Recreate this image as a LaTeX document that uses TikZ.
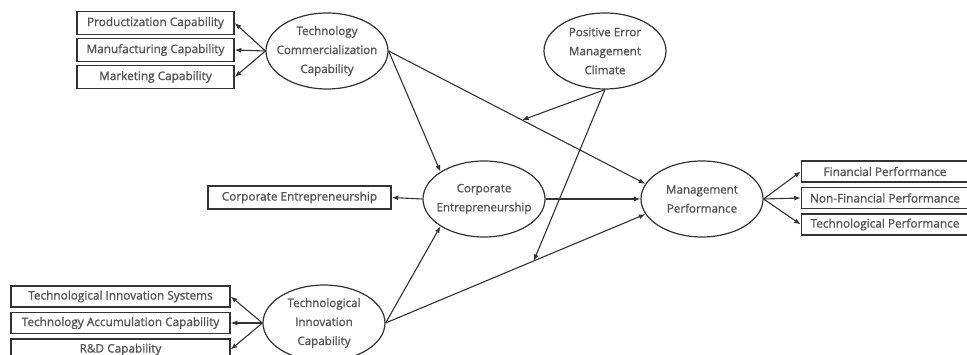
\documentclass[tikz,border=0pt]{standalone}
\usepackage{fontspec}
\setmainfont{Open Sans}[FakeBold=1.1]
\usepackage{tikz}
\usetikzlibrary{arrows.meta,positioning,shapes.geometric}
\usepackage{xcolor}
\definecolor{linegray}{HTML}{333333}
\definecolor{textgray}{HTML}{555555}

\begin{document}
\begin{tikzpicture}[x=1pt, y=-1pt,
  latent/.style={draw=linegray, line width=1.2pt, ellipse, inner sep=-20pt,
    minimum width=122pt, minimum height=76pt, align=center,
    text=textgray, font=\fontsize{11.6}{19}\selectfont},
  indicator/.style={draw=linegray, line width=1.5pt, rectangle,
    minimum height=21pt, inner sep=1pt, text=textgray,
    font=\fontsize{11.8}{12}\selectfont},
  link/.style={draw=linegray, line width=1.1pt,
    -{Latex[length=6.5pt,width=5pt]}}]
  %% Page frame
  \clip (0,0) rectangle (967,355);

  %% Latent constructs
  \node[latent] (tcc)  at (327,51)  {Technology\\Commercialization\\Capability};
  \node[latent] (pemc) at (605,51)  {Positive Error\\Management\\Climate};
  \node[latent] (ce)   at (484,199) {Corporate\\Entrepreneurship};
  \node[latent] (mp)   at (702,199) {Management\\Performance};
  \node[latent] (tic)  at (324,323) {Technological\\Innovation\\Capability};

  %% Indicators of technology commercialization capability
  \node[indicator, minimum width=157pt, minimum height=23pt] (manu) at (155.5,50)
    {Manufacturing Capability};
  \node[indicator, minimum width=157pt, minimum height=23pt, above=2.5pt of manu] (prod)
    {Productization Capability};
  \node[indicator, minimum width=157pt, minimum height=23pt, below=2.5pt of manu] (mark)
    {Marketing Capability};

  %% Indicator of corporate entrepreneurship
  \node[indicator, minimum width=183pt, minimum height=23pt] (cebox) at (299.5,197.5)
    {Corporate Entrepreneurship};

  %% Indicators of management performance
  \node[indicator, minimum width=167pt] (nonfin) at (885,198)
    {Non-Financial Performance};
  \node[indicator, minimum width=167pt, above=4pt of nonfin] (fin)
    {Financial Performance};
  \node[indicator, minimum width=167pt, below=4pt of nonfin] (techperf)
    {Technological Performance};

  %% Indicators of technological innovation capability
  \node[indicator, minimum width=219pt] (tac) at (120.5,323)
    {Technology Accumulation Capability};
  \node[indicator, minimum width=219pt, above=4pt of tac] (tis)
    {Technological Innovation Systems};
  \node[indicator, minimum width=219pt, below=4pt of tac] (rnd)
    {R\&D Capability};

  %% Measurement arrows
  \foreach \b in {prod,manu,mark}
    \draw[link] (tcc.west) -- (\b.east);
  \foreach \b in {tis,tac,rnd}
    \draw[link] (tic.west) -- (\b.east);
  \foreach \b in {fin,nonfin,techperf}
    \draw[link] (mp.east) -- (\b.west);
  \draw[link] (ce.west) -- (cebox.east);

  %% Structural paths
  \draw[link] (tcc.east) -- (ce.north west);
  \draw[link] (tcc.east) -- coordinate[pos=0.52] (modtop) (mp.165);
  \draw[link] (tic.east) -- (ce.south west);
  \draw[link] (tic.east) -- coordinate[pos=0.57] (modbot) (mp.195);
  \draw[link] (ce.east) -- (mp.west);

  %% Moderating effects
  \draw[link] (pemc.south) -- (modtop);
  \draw[link] (pemc.south) -- (modbot);
\end{tikzpicture}
\end{document}
